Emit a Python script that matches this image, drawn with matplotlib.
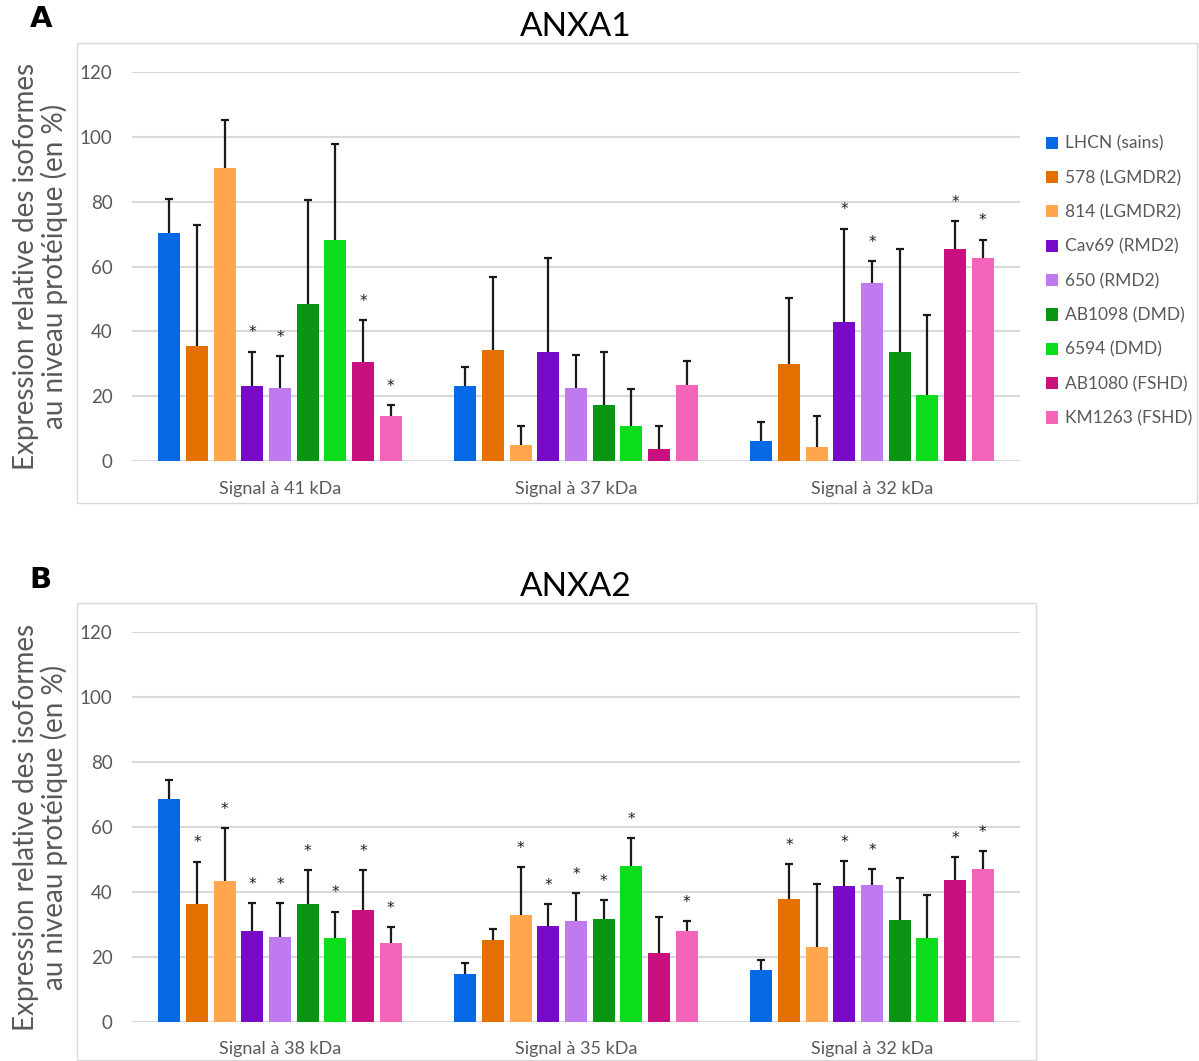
import numpy as np
import matplotlib
matplotlib.use('Agg')
import matplotlib.pyplot as plt
from matplotlib.patches import Rectangle

lines = ['LHCN (sains)', '578 (LGMDR2)', '814 (LGMDR2)', 'Cav69 (RMD2)', '650 (RMD2)',
         'AB1098 (DMD)', '6594 (DMD)', 'AB1080 (FSHD)', 'KM1263 (FSHD)']
colors = ['#0769e6', '#e37000', '#ffa64f', '#770bc7', '#c07af0',
          '#0a9612', '#0bdc1b', '#c8107f', '#f464b8']

# ANXA1
a1_labels = ['Signal à 41 kDa', 'Signal à 37 kDa', 'Signal à 32 kDa']
a1_41 = [70.4, 35.6, 90.4, 23.3, 22.6, 48.5, 68.2, 30.5, 13.9]
a1_41_sd = [10.4, 37.3, 14.7, 10.5, 9.8, 31.9, 29.5, 13.0, 3.4]
a1_41_sig = [0, 0, 0, 1, 1, 0, 0, 1, 1]
a1_37 = [23.3, 34.2, 4.9, 33.6, 22.6, 17.5, 10.9, 3.7, 23.5]
a1_37_sd = [5.7, 22.7, 6.1, 29.1, 10.1, 16.1, 11.5, 7.3, 7.4]
a1_37_sig = [0, 0, 0, 0, 0, 0, 0, 0, 0]
a1_32 = [6.3, 30.0, 4.5, 42.8, 54.8, 33.8, 20.5, 65.4, 62.5]
a1_32_sd = [5.7, 20.4, 9.5, 28.9, 6.8, 31.5, 24.5, 8.7, 5.8]
a1_32_sig = [0, 0, 0, 1, 1, 0, 0, 1, 1]

# ANXA2
a2_labels = ['Signal à 38 kDa', 'Signal à 35 kDa', 'Signal à 32 kDa']
a2_38 = [68.6, 36.4, 43.5, 28.0, 26.3, 36.3, 25.7, 34.4, 24.4]
a2_38_sd = [6.0, 13.0, 16.1, 8.7, 10.4, 10.5, 8.3, 12.4, 4.9]
a2_38_sig = [0, 1, 1, 1, 1, 1, 1, 1, 1]
a2_35 = [14.8, 25.3, 32.9, 29.7, 31.2, 31.6, 48.0, 21.1, 27.9]
a2_35_sd = [3.3, 3.2, 14.7, 6.5, 8.5, 5.9, 8.6, 11.3, 3.1]
a2_35_sig = [0, 0, 1, 1, 1, 1, 1, 0, 1]
a2_32 = [16.0, 37.8, 23.2, 41.8, 42.1, 31.4, 25.7, 43.7, 47.2]
a2_32_sd = [3.2, 10.9, 19.3, 7.8, 5.0, 12.9, 13.3, 7.2, 5.4]
a2_32_sig = [0, 1, 0, 1, 1, 0, 0, 1, 1]

grey = '#595959'
font = 'Lato'

fig = plt.figure(figsize=(11.99, 10.61), dpi=100)

# chart frames
fig.patches.append(Rectangle((0.0642, 0.5259), 0.934, 0.4336, transform=fig.transFigure,
                             fill=False, edgecolor='#d9d9d9', lw=1))
fig.patches.append(Rectangle((0.0642, 0.001), 0.800, 0.4307, transform=fig.transFigure,
                             fill=False, edgecolor='#d9d9d9', lw=1))


def draw(ax, labels, means, sds, sigs, title):
    x = np.arange(len(labels))
    slot = 0.0936
    for i in range(len(lines)):
        m = np.array([g[i] for g in means])
        s = np.array([g[i] for g in sds])
        xs = x + (i - 4) * slot
        ax.bar(xs, m, width=0.074, color=colors[i], label=lines[i], zorder=2)
        eb = ax.errorbar(xs, m, yerr=[np.zeros_like(s), s], fmt='none', ecolor='#1a1a1a',
                         elinewidth=1.6, capsize=3, capthick=1.6, zorder=3)
        eb[1][0].set_visible(False)  # no cap at the bar top
        for j in range(len(labels)):
            if sigs[j][i]:
                ax.annotate('*', (xs[j], m[j] + s[j]), xytext=(0, 8), textcoords='offset points',
                            ha='center', va='bottom', fontsize=11, color='#1a1a1a')
    ax.set_xlim(-0.5, 2.5)
    ax.set_ylim(0, 120)
    ax.set_yticks(range(0, 121, 20))
    ax.set_xticks(x)
    ax.set_xticklabels(labels, fontsize=13, color=grey, family=font)
    for t in ax.get_yticklabels():
        t.set_fontsize(13.5)
        t.set_color(grey)
        t.set_family(font)
    ax.tick_params(axis='x', length=0, pad=14)
    ax.tick_params(axis='y', length=0, pad=14)
    ax.grid(axis='y', color='#d9d9d9', lw=1.5, zorder=0)
    ax.set_axisbelow(True)
    for sp in ax.spines.values():
        sp.set_visible(False)
    ax.axhline(0, color='#d9d9d9', lw=1.5, zorder=1)
    ax.set_title(title, fontsize=24, family=font, pad=26)


ax1 = fig.add_axes([0.1101, 0.5652, 0.7406, 0.3672])
draw(ax1, a1_labels, [a1_41, a1_37, a1_32], [a1_41_sd, a1_37_sd, a1_32_sd],
     [a1_41_sig, a1_37_sig, a1_32_sig], 'ANXA1')
ax2 = fig.add_axes([0.1101, 0.0368, 0.7406, 0.3673])
draw(ax2, a2_labels, [a2_38, a2_35, a2_32], [a2_38_sd, a2_35_sd, a2_32_sd],
     [a2_38_sig, a2_35_sig, a2_32_sig], 'ANXA2')

ylab = 'Expression relative des isoformes\nau niveau protéique (en %)'
fig.text(0.0335, 0.5652 + 0.3672 / 2, ylab, rotation=90, ha='center', va='center',
         fontsize=20, color=grey, family=font, linespacing=1.05)
fig.text(0.0335, 0.0368 + 0.3673 / 2, ylab, rotation=90, ha='center', va='center',
         fontsize=20, color=grey, family=font, linespacing=1.05)

fig.text(0.034, 0.982, 'A', fontsize=21, fontweight='bold', va='center', ha='center')
fig.text(0.034, 0.453, 'B', fontsize=21, fontweight='bold', va='center', ha='center')

leg = ax1.legend(loc='upper left', bbox_to_anchor=(1.012, 0.876), frameon=False,
                 prop={'family': font, 'size': 12.5}, labelcolor=grey,
                 handlelength=0.7, handleheight=0.7, handletextpad=0.4, labelspacing=1.05)

fig.savefig('out.png', dpi=100)
